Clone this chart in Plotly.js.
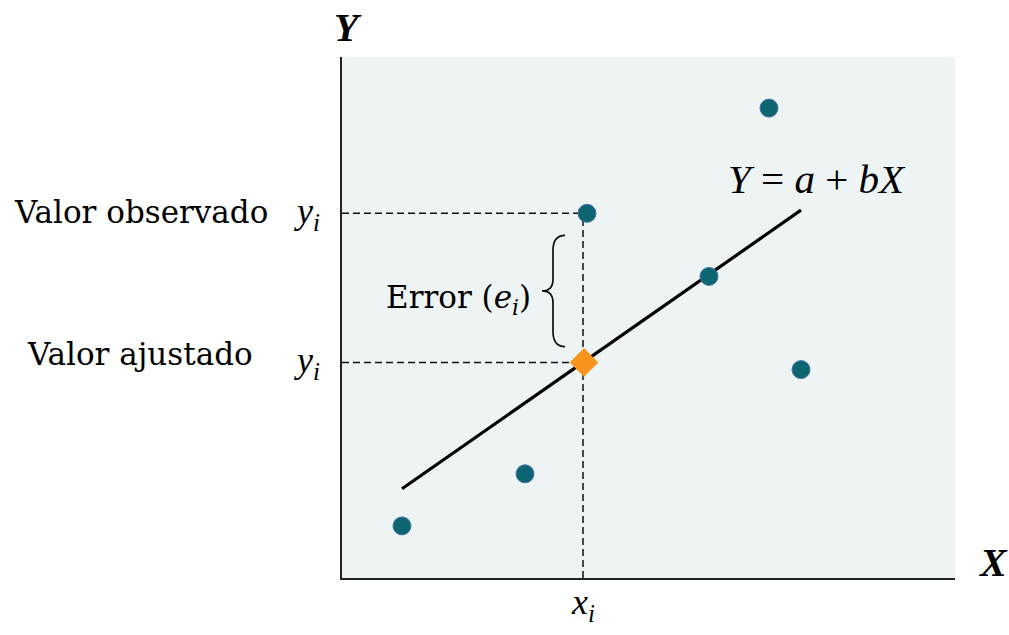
<!DOCTYPE html>
<html><head><meta charset="utf-8">
<script src="https://cdn.plot.ly/plotly-3.0.1.min.js"></script>
<style>html,body{margin:0;padding:0;background:#fff}#c{width:1009px;height:635px}</style>
</head><body><div id="c"></div>
<script>
// Observed points (arbitrary units)
const obsX = [60, 183, 245, 367, 427, 459];
const obsY = [52, 104, 364, 301, 469, 208];
// Fitted line Y = a + bX
const lineX = [60, 459];
const a = 47.2, b = 0.697;
const lineY = lineX.map(x => a + b * x);
// Highlighted point
const xi = 241;
const yiObs = 364;
const yiFit = a + b * xi;

const serif = "Liberation Serif, Times New Roman, serif";
const body = "DejaVu Serif, serif";

const dashLine = {color: '#111', width: 1.5, dash: '7px,4px'};
const traces = [
  {x: [0, obsX[2]], y: [yiObs, yiObs], mode: 'lines', line: dashLine, hoverinfo: 'skip'},
  {x: [0, xi], y: [yiFit, yiFit], mode: 'lines', line: dashLine, hoverinfo: 'skip'},
  {x: [xi, xi], y: [0, yiObs], mode: 'lines', line: dashLine, hoverinfo: 'skip'},
  {x: lineX, y: lineY, mode: 'lines', line: {color: '#000', width: 3.2}},
  {x: obsX, y: obsY, mode: 'markers', marker: {size: 18, color: '#0B6671', line: {color: '#4A6FA8', width: 1}}},
  {x: [xi + 1], y: [yiFit], mode: 'markers', marker: {symbol: 'diamond', size: 22, color: '#F7941D', line: {width: 0}}}
];

const ann = [
  {text: '<b><i>Y</i></b>', xref: 'paper', yref: 'paper', x: 0.01, y: 1.056, xanchor: 'center', yanchor: 'middle', showarrow: false, font: {family: serif, size: 40, color: '#000'}},
  {text: '<b><i>X</i></b>', xref: 'paper', yref: 'paper', x: 1.062, y: 0.03, xanchor: 'center', yanchor: 'middle', showarrow: false, font: {family: serif, size: 40, color: '#000'}},
  {text: '<i>x<sub>i</sub></i>', xref: 'paper', yref: 'paper', x: xi / 613, y: -0.05, xanchor: 'center', yanchor: 'middle', showarrow: false, font: {family: serif, size: 36, color: '#000'}},
  {text: '<i>y<sub>i</sub></i>', xref: 'paper', yref: 'y', x: -0.057, y: yiObs, xanchor: 'center', yanchor: 'middle', showarrow: false, font: {family: serif, size: 36, color: '#000'}},
  {text: '<i>y<sub>i</sub></i>', xref: 'paper', yref: 'y', x: -0.057, y: yiFit, xanchor: 'center', yanchor: 'middle', showarrow: false, font: {family: serif, size: 36, color: '#000'}},
  {text: 'Valor observado', xref: 'paper', yref: 'y', x: -0.117, y: yiObs + 1, xanchor: 'right', yanchor: 'middle', showarrow: false, font: {family: body, size: 31, color: '#000'}},
  {text: 'Valor ajustado', xref: 'paper', yref: 'y', x: -0.142, y: yiFit + 8, xanchor: 'right', yanchor: 'middle', showarrow: false, font: {family: body, size: 31, color: '#000'}},
  {text: 'Error (<i>e<sub>i</sub></i>)', xref: 'x', yref: 'y', x: 116, y: 278, xanchor: 'center', yanchor: 'middle', showarrow: false, font: {family: body, size: 31, color: '#000'}},
  {text: '<i>Y</i> = <i>a</i> + <i>bX</i>', xref: 'x', yref: 'y', x: 475, y: 398, xanchor: 'center', yanchor: 'middle', showarrow: false, font: {family: serif, size: 41, color: '#000'}}
];

// curly brace between observed and fitted values
const bx = 223, by0 = 231, by1 = 342, bm = (by0 + by1) / 2;
const brace = `M ${bx} ${by1} Q ${bx - 12} ${by1} ${bx - 12} ${by1 - 15} L ${bx - 12} ${bm + 12} Q ${bx - 12} ${bm} ${bx - 23} ${bm} Q ${bx - 12} ${bm} ${bx - 12} ${bm - 12} L ${bx - 12} ${by0 + 15} Q ${bx - 12} ${by0} ${bx} ${by0}`;

const layout = {
  width: 1009, height: 635,
  margin: {l: 342, r: 54, t: 57, b: 57},
  paper_bgcolor: '#ffffff',
  plot_bgcolor: '#EEF4F4',
  showlegend: false,
  xaxis: {range: [0, 613], showgrid: false, zeroline: false, showticklabels: false, ticks: '', showline: true, linecolor: '#222', linewidth: 1.8, fixedrange: true},
  yaxis: {range: [0, 520], showgrid: false, zeroline: false, showticklabels: false, ticks: '', showline: true, linecolor: '#222', linewidth: 1.8, fixedrange: true},
  annotations: ann,
  shapes: [{type: 'path', xref: 'x', yref: 'y', path: brace, line: {color: '#111', width: 1.7}}]
};

Plotly.newPlot('c', traces, layout, {displayModeBar: false, staticPlot: true});
</script>
</body></html>
